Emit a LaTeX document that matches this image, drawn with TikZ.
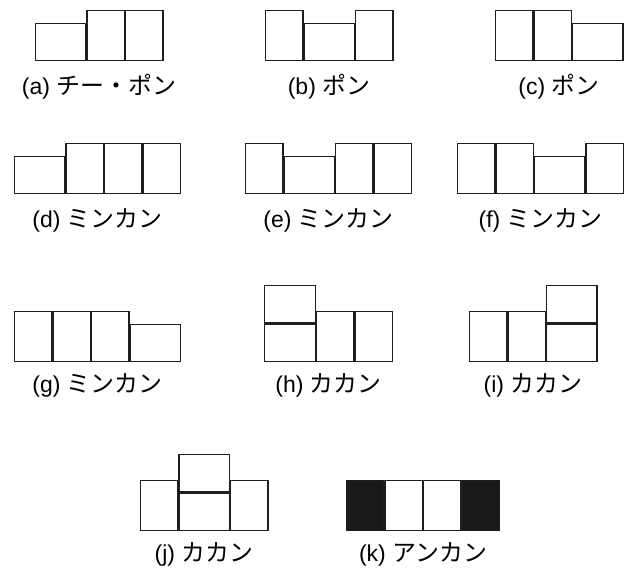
\documentclass[tikz,border=0pt]{standalone}
\usepackage{fontspec}
\setmainfont{Liberation Sans}
\newfontfamily\cjk[Scale=1.04]{Noto Sans CJK JP}
\newcommand\tileat[5][white]{\draw[tile,fill=#1] ({#2+0.6},{#3+0.6}) rectangle ({#4-0.6},{#5-0.6});}
\begin{document}
\begin{tikzpicture}[x=1pt,y=-1pt,
  tile/.style={draw=black!88,line width=1.3pt},
  lab/.style={anchor=base,inner sep=0pt,font=\fontsize{23}{27}\selectfont}]
\useasboundingbox (0,0) rectangle (631,572);
% (a)
\tileat{35}{23}{86.5}{61}
\tileat{86.5}{10}{125}{61}
\tileat{125}{10}{163.5}{61}
\node[lab] (la) at (99,95) {(a) {\cjk チー・ポン}};
% (b)
\tileat{265}{10}{303.5}{61}
\tileat{303.5}{23}{355}{61}
\tileat{355}{10}{393.5}{61}
\node[lab] (lb) at (329,95) {(b) {\cjk ポン}};
% (c)
\tileat{495}{10}{533.5}{61}
\tileat{533.5}{10}{572}{61}
\tileat{572}{23}{623.5}{61}
\node[lab] (lc) at (559,95) {(c) {\cjk ポン}};
% (d)
\tileat{14}{156}{65.5}{194}
\tileat{65.5}{143}{104}{194}
\tileat{104}{143}{142.5}{194}
\tileat{142.5}{143}{181}{194}
\node[lab] (ld) at (97.5,227) {(d) {\cjk ミンカン}};
% (e)
\tileat{245}{143}{283.5}{194}
\tileat{283.5}{156}{335}{194}
\tileat{335}{143}{373.5}{194}
\tileat{373.5}{143}{412}{194}
\node[lab] (le) at (328.5,227) {(e) {\cjk ミンカン}};
% (f)
\tileat{457}{143}{495.5}{194}
\tileat{495.5}{143}{534}{194}
\tileat{534}{156}{585.5}{194}
\tileat{585.5}{143}{624}{194}
\node[lab] (lf) at (540.5,227) {(f) {\cjk ミンカン}};
% (g)
\tileat{14}{311}{52.5}{362}
\tileat{52.5}{311}{91}{362}
\tileat{91}{311}{129.5}{362}
\tileat{129.5}{324}{181}{362}
\node[lab] (lg) at (97.5,392) {(g) {\cjk ミンカン}};
% (h)
\tileat{264}{285}{316}{323.5}
\tileat{264}{323.5}{316}{362}
\tileat{316}{311}{354.5}{362}
\tileat{354.5}{311}{393}{362}
\node[lab] (lh) at (328.5,392) {(h) {\cjk カカン}};
% (i)
\tileat{469}{311}{507.5}{362}
\tileat{507.5}{311}{546}{362}
\tileat{546}{285}{597.5}{323.5}
\tileat{546}{323.5}{597.5}{362}
\node[lab] (li) at (533,392) {(i) {\cjk カカン}};
% (j)
\tileat{140}{480}{178.5}{531}
\tileat{178.5}{454}{230}{492.5}
\tileat{178.5}{492.5}{230}{531}
\tileat{230}{480}{268.5}{531}
\node[lab] (lj) at (204,561) {(j) {\cjk カカン}};
% (k)
\tileat[black!90]{346}{480}{384.5}{531}
\tileat{384.5}{480}{423}{531}
\tileat{423}{480}{461.5}{531}
\tileat[black!90]{461.5}{480}{500}{531}
\node[lab] (lk) at (423,561) {(k) {\cjk アンカン}};
\end{tikzpicture}
\end{document}
